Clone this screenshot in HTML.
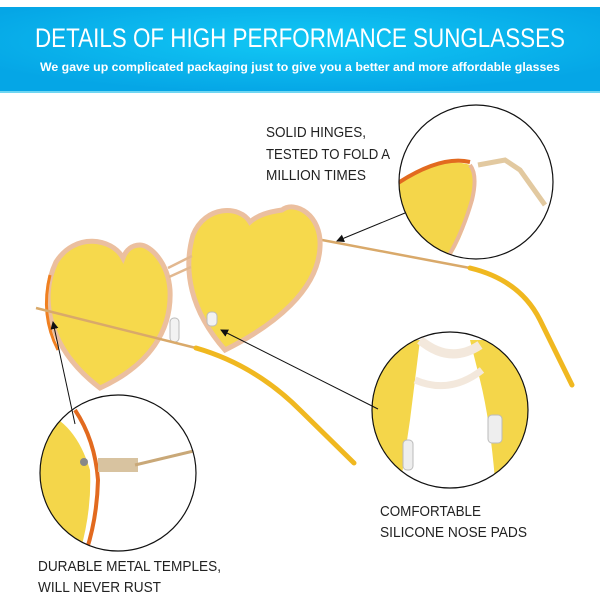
<!DOCTYPE html>
<html><head><meta charset="utf-8"><style>
body{margin:0;width:600px;height:600px;overflow:hidden;background:#fff;font-family:"Liberation Sans",sans-serif}
</style></head><body>
<svg width="600" height="600" viewBox="0 0 600 600" xmlns="http://www.w3.org/2000/svg">
<defs>
<radialGradient id="bg" cx="0.5" cy="0.4" r="0.6"><stop offset="0" stop-color="#12c8f5"/><stop offset="1" stop-color="#05a6e6"/></radialGradient>
<marker id="ar" markerWidth="8" markerHeight="8" refX="7" refY="4" orient="auto"><path d="M0,0 L8,4 L0,8 z" fill="#111"/></marker>
<clipPath id="c1"><circle cx="476" cy="182" r="77"/></clipPath>
<clipPath id="c2"><circle cx="450" cy="410" r="78"/></clipPath>
<clipPath id="c3"><circle cx="118" cy="473" r="78"/></clipPath>
</defs>
<rect x="0" y="7" width="600" height="86" fill="url(#bg)"/>
<rect x="0" y="91" width="600" height="2" fill="#6fd6f2"/>
<text x="300" y="47" text-anchor="middle" fill="#fff" font-size="27" textLength="530" lengthAdjust="spacingAndGlyphs">DETAILS OF HIGH PERFORMANCE SUNGLASSES</text>
<text x="300" y="71" text-anchor="middle" fill="#fff" font-size="12" font-weight="bold" textLength="520" lengthAdjust="spacingAndGlyphs">We gave up complicated packaging just to give you a better and more affordable glasses</text>

<path d="M322 240 L470 268" stroke="#d9a96a" stroke-width="2.5" fill="none"/>
<path d="M470 268 Q520 280 540 320 L572 385" stroke="#f0b820" stroke-width="5" fill="none" stroke-linecap="round"/>
<path d="M250 222 C240 205 205 205 193 235 C183 270 190 310 225 350 C275 325 318 290 320 247 C322 215 295 200 282 210 C268 212 258 215 250 222 Z" fill="#f6d94c" stroke="#ebbf9f" stroke-width="5"/>
<path d="M123 258 C112 238 75 232 56 262 C38 300 50 350 100 388 C150 365 172 330 170 290 C168 262 150 245 140 245 C132 245 126 250 123 258 Z" fill="#f6d94c" stroke="#ebbf9f" stroke-width="5"/>
<path d="M50 275 Q40 315 58 350" stroke="#f08020" stroke-width="3" fill="none"/>
<path d="M168 268 L192 256 M169 277 L191 267" stroke="#e2b890" stroke-width="2.5"/>
<rect x="170" y="318" width="9" height="24" rx="4" fill="#f2f2f2" stroke="#bbb"/>
<rect x="207" y="312" width="10" height="14" rx="4" fill="#f2f2f2" stroke="#bbb"/>
<path d="M36 308 L196 348" stroke="#d9a96a" stroke-width="2.5" fill="none"/>
<path d="M196 348 Q255 365 300 410 L354 463" stroke="#f0b820" stroke-width="5" fill="none" stroke-linecap="round"/>

<g clip-path="url(#c1)">
<rect x="398" y="104" width="160" height="160" fill="#fff"/>
<path d="M395 185 Q440 155 470 165 L475 180 Q470 230 445 265 L395 265 Z" fill="#f4d64a"/>
<path d="M395 185 Q440 155 470 162" stroke="#e26a1f" stroke-width="4" fill="none"/>
<path d="M470 165 Q478 175 472 200 Q462 235 445 262" stroke="#e9b99a" stroke-width="4" fill="none"/>
<path d="M478 165 L505 160 L520 170 L545 205" stroke="#e2c9a0" stroke-width="5" fill="none"/>
</g>
<circle cx="476" cy="182" r="77" fill="none" stroke="#111" stroke-width="1.2"/>
<g clip-path="url(#c2)">
<rect x="370" y="330" width="160" height="160" fill="#fff"/>
<path d="M370 340 L420 340 Q415 380 410 420 L400 488 L370 488 Z" fill="#f4d64a"/>
<path d="M470 340 L530 340 L530 480 L495 480 Q490 420 480 380 Z" fill="#f4d64a"/>
<path d="M420 340 Q450 365 480 345" stroke="#f3e8dc" stroke-width="9" fill="none"/>
<path d="M415 380 Q450 395 482 370" stroke="#f3e8dc" stroke-width="7" fill="none"/>
<rect x="403" y="440" width="10" height="30" rx="4" fill="#eee" stroke="#bbb"/>
<rect x="488" y="415" width="14" height="28" rx="4" fill="#eee" stroke="#bbb"/>
</g>
<circle cx="450" cy="410" r="78" fill="none" stroke="#111" stroke-width="1.2"/>
<g clip-path="url(#c3)">
<rect x="38" y="394" width="160" height="160" fill="#fff"/>
<path d="M38 410 Q75 420 90 470 Q92 510 80 552 L38 552 Z" fill="#f4d64a"/>
<path d="M75 410 Q95 440 98 480 Q97 520 85 555" stroke="#e26a1f" stroke-width="4" fill="none"/>
<rect x="98" y="458" width="40" height="14" fill="#d8c3a0"/>
<path d="M135 465 L198 450" stroke="#c9a878" stroke-width="3"/>
<circle cx="84" cy="462" r="4" fill="#888"/>
</g>
<circle cx="118" cy="473" r="78" fill="none" stroke="#111" stroke-width="1.2"/>

<path d="M405 213 L337 241" stroke="#111" stroke-width="1" marker-end="url(#ar)"/>
<path d="M378 409 L221 330" stroke="#111" stroke-width="1" marker-end="url(#ar)"/>
<path d="M75 424 L53 322" stroke="#111" stroke-width="1" marker-end="url(#ar)"/>

<g font-size="14.5" fill="#222">
<text x="266" y="137" textLength="100" lengthAdjust="spacingAndGlyphs">SOLID HINGES,</text>
<text x="266" y="159" textLength="124" lengthAdjust="spacingAndGlyphs">TESTED TO FOLD A</text>
<text x="266" y="180" textLength="100" lengthAdjust="spacingAndGlyphs">MILLION TIMES</text>
<text x="380" y="516" textLength="101" lengthAdjust="spacingAndGlyphs">COMFORTABLE</text>
<text x="380" y="537" textLength="147" lengthAdjust="spacingAndGlyphs">SILICONE NOSE PADS</text>
<text x="38" y="571" textLength="183" lengthAdjust="spacingAndGlyphs">DURABLE METAL TEMPLES,</text>
<text x="38" y="592" textLength="123" lengthAdjust="spacingAndGlyphs">WILL NEVER RUST</text>
</g>
</svg>
</body></html>
